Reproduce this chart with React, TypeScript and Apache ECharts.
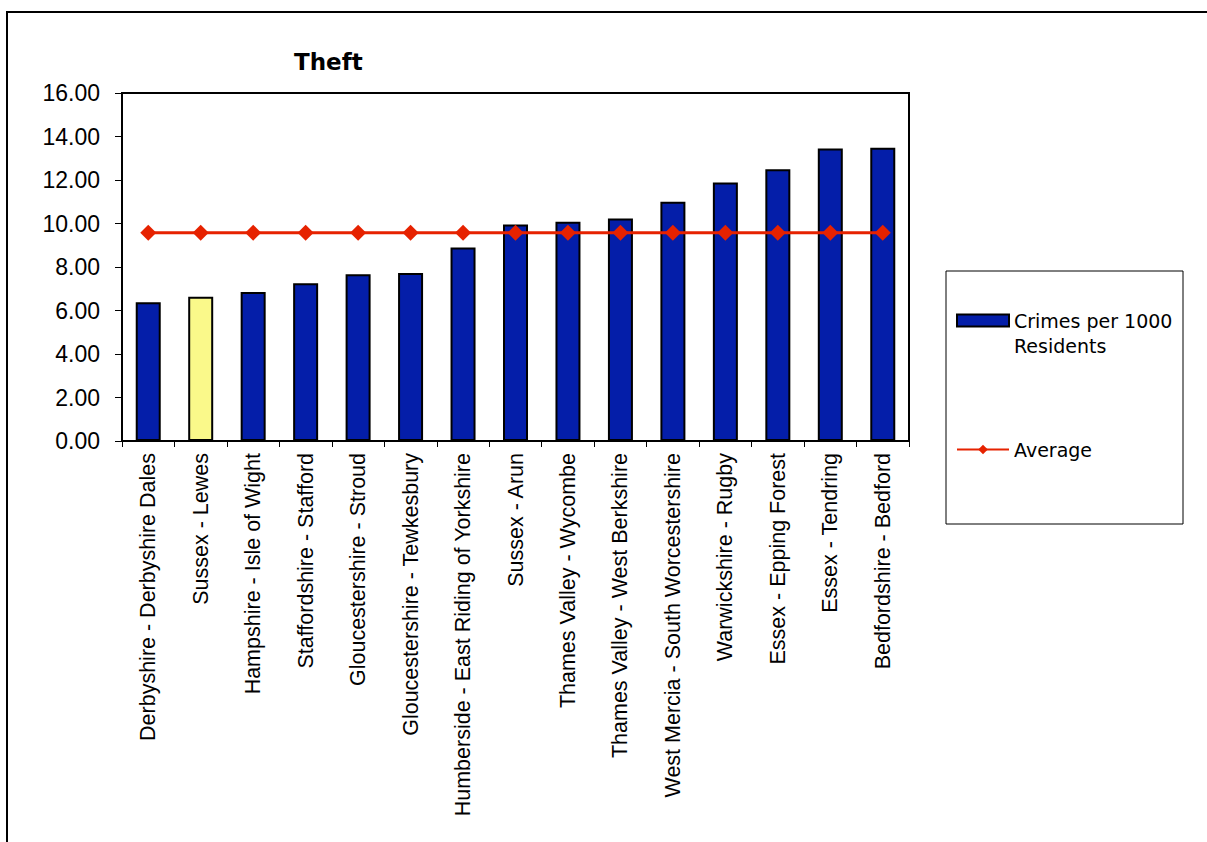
import React, { useEffect, useRef } from "react";
import * as echarts from "echarts";

const categories = [
  "Derbyshire - Derbyshire Dales",
  "Sussex - Lewes",
  "Hampshire - Isle of Wight",
  "Staffordshire - Stafford",
  "Gloucestershire - Stroud",
  "Gloucestershire - Tewkesbury",
  "Humberside - East Riding of Yorkshire",
  "Sussex - Arun",
  "Thames Valley - Wycombe",
  "Thames Valley - West Berkshire",
  "West Mercia - South Worcestershire",
  "Warwickshire - Rugby",
  "Essex - Epping Forest",
  "Essex - Tendring",
  "Bedfordshire - Bedford",
];

const crimesPer1000 = [6.38, 6.63, 6.85, 7.25, 7.67, 7.72, 8.9, 9.95, 10.08, 10.23, 11.0, 11.88, 12.5, 13.45, 13.48];
const averageValue = [9.58, 9.58, 9.58, 9.58, 9.58, 9.58, 9.58, 9.58, 9.58, 9.58, 9.58, 9.58, 9.58, 9.58, 9.58];
const highlightIndex = 1;
const yTicks = [0, 2, 4, 6, 8, 10, 12, 14, 16];

const BAR_NAME = "Crimes per 1000 Residents";
const LINE_NAME = "Average";
const BLUE = "#041EA9";
const YELLOW = "#FAF98A";
const RED = "#E62200";

export default function App() {
  const ref = useRef<HTMLDivElement>(null);
  useEffect(() => {
    if (!ref.current) return;
    const chart = echarts.init(ref.current, null, { renderer: "svg" });
    chart.setOption({
      animation: false,
      backgroundColor: "#fff",
      title: {
        text: "Theft",
        left: 294,
        top: 50,
        padding: 0,
        textStyle: { fontFamily: "DejaVu Sans", fontWeight: "bold", fontSize: 23, color: "#000" },
      },
      grid: {
        left: 122,
        top: 93,
        width: 787,
        height: 348,
        show: true,
        borderColor: "#000",
        borderWidth: 2,
        backgroundColor: "transparent",
      },
      xAxis: {
        type: "category",
        data: categories,
        boundaryGap: true,
        axisLine: { lineStyle: { color: "#000", width: 2 } },
        axisTick: { show: true, interval: 0, length: 6, lineStyle: { color: "#000", width: 1 } },
        axisLabel: {
          interval: 0,
          rotate: 90,
          margin: 12,
          color: "#000",
          fontFamily: "Liberation Sans, Arial",
          fontSize: 21.5,
        },
        splitLine: { show: false },
      },
      yAxis: {
        type: "value",
        min: yTicks[0],
        max: yTicks[yTicks.length - 1],
        interval: 2,
        axisLine: { show: true, lineStyle: { color: "#000", width: 2 } },
        axisTick: { show: true, length: 7, lineStyle: { color: "#000", width: 1 } },
        axisLabel: {
          margin: 22,
          color: "#000",
          fontFamily: "Liberation Sans, Arial",
          fontSize: 23,
          formatter: (v: number) => v.toFixed(2),
        },
        splitLine: { show: false },
      },
      legend: [
        {
          data: [
            {
              name: BAR_NAME,
              icon: "rect",
              itemStyle: { color: BLUE, borderColor: "#000", borderWidth: 2 },
            },
          ],
          left: 956,
          top: 283,
          itemWidth: 52,
          itemHeight: 12,
          padding: 0,
          formatter: () => " \nCrimes per 1000\nResidents",
          textStyle: { fontFamily: "DejaVu Sans", fontSize: 19, color: "#000", lineHeight: 25 },
        },
        {
          data: [{ name: LINE_NAME }],
          left: 956,
          top: 437,
          itemWidth: 52,
          itemHeight: 12,
          padding: 0,
          textStyle: { fontFamily: "DejaVu Sans", fontSize: 19, color: "#000", lineHeight: 25 },
        },
      ],
      graphic: [
        {
          type: "rect",
          shape: { x: 7, y: 12, width: 1400, height: 1000 },
          style: { fill: "none", stroke: "#000", lineWidth: 2 },
          silent: true,
          z: -1,
        },
        {
          type: "rect",
          shape: { x: 946, y: 271, width: 237, height: 253 },
          style: { fill: "#fff", stroke: "#000", lineWidth: 1 },
          silent: true,
          z: -1,
        },
      ],
      series: [
        {
          name: BAR_NAME,
          type: "bar",
          barWidth: 25,
          data: crimesPer1000.map((v, i) => ({
            value: v,
            itemStyle: i === highlightIndex ? { color: YELLOW } : undefined,
          })),
          itemStyle: { color: BLUE, borderColor: "#000", borderWidth: 2 },
          z: 2,
        },
        {
          name: LINE_NAME,
          type: "line",
          data: averageValue,
          symbol: "diamond",
          symbolSize: 16,
          lineStyle: { color: RED, width: 3 },
          itemStyle: { color: RED },
          z: 3,
        },
      ],
    });
    return () => chart.dispose();
  }, []);
  return (
    <div
      ref={ref}
      style={{ position: "absolute", left: 0, top: 0, width: 1207, height: 842 }}
    />
  );
}
